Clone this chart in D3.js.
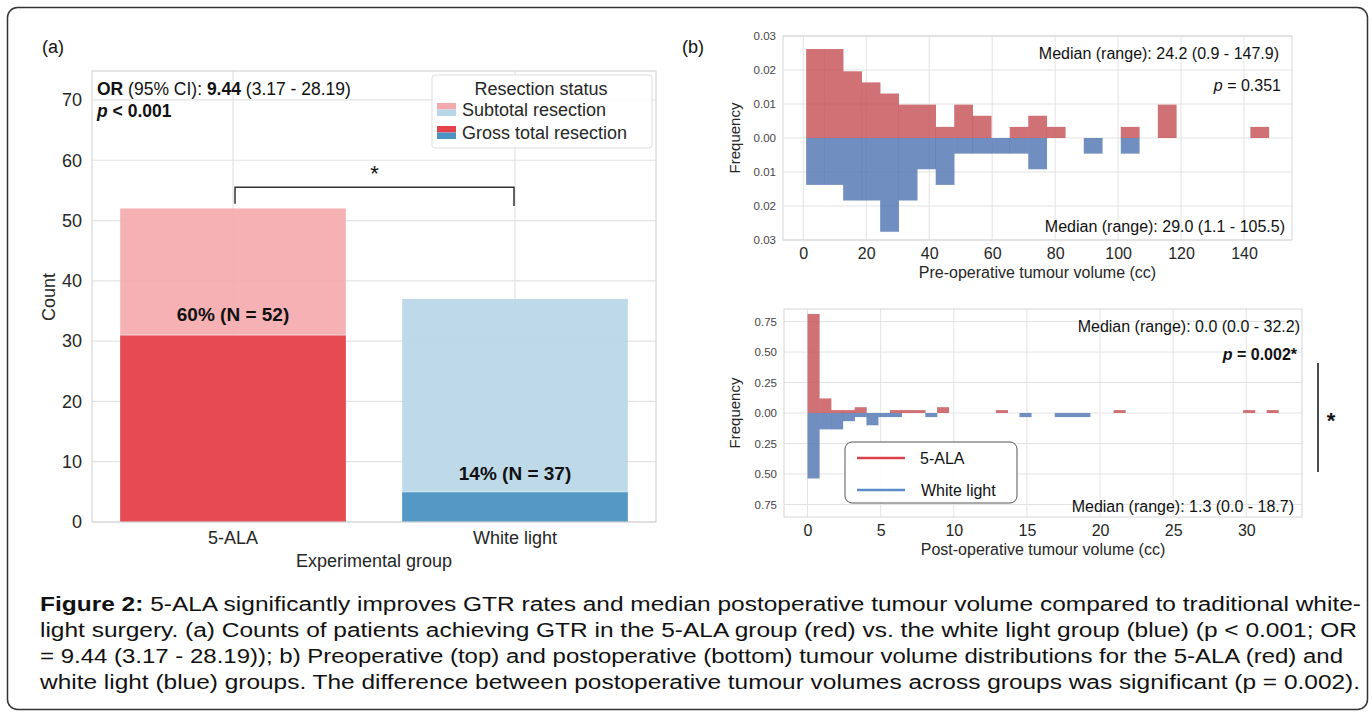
<!DOCTYPE html>
<html><head><meta charset="utf-8">
<script src="https://cdn.jsdelivr.net/npm/d3@7"></script>
<style>
html,body{margin:0;padding:0;background:#fff;}
text{font-family:"Liberation Sans",Arial,sans-serif;}
</style></head>
<body><svg id="c" width="1372" height="718"></svg>
<script>
// ---------- DATA ----------
const groups = ["5-ALA", "White light"];
const gtrCounts = [31, 5];
const totalCounts = [52, 37];
const pctLabels = ["60% (N = 52)", "14% (N = 37)"];
const yTicksA = [0, 10, 20, 30, 40, 50, 60, 70];

const preRange = [0.9, 147.9];
const preRedCounts  = [8,8,6,5,4,3,3,1,3,2,0,1,2,1,0,0,0,1,0,3,0,0,0,0,1];
const preBlueCounts = [3,3,4,4,6,4,2,3,1,1,1,1,2,0,0,1,0,1,0,0,0,0,0,0,0];
const preXTicks = [0, 20, 40, 60, 80, 100, 120, 140];
const preYTicks = [-0.03, -0.02, -0.01, 0, 0.01, 0.02, 0.03];

const postRange = [0.0, 32.2];
const postRedCounts  = [34,5,1,1,2,0,0,1,1,1,0,2,0,0,0,0,1,0,0,0,0,0,0,0,0,0,1,0,0,0,0,0,0,0,0,0,0,1,0,1];
const postBlueCounts = [16,4,4,2,1,3,1,1,0,0,1,0,0,0,0,0,0,0,1,0,0,1,1,1,0,0,0,0,0,0,0,0,0,0,0,0,0,0,0,0];
const postXTicks = [0, 5, 10, 15, 20, 25, 30];
const postYTicks = [-0.75, -0.5, -0.25, 0, 0.25, 0.5, 0.75];

const nRed = 52, nBlue = 37;

const captionLines = [
  [["Figure 2:", true], [" 5-ALA significantly improves GTR rates and median postoperative tumour volume compared to traditional white-", false]],
  [["light surgery. (a) Counts of patients achieving GTR in the 5-ALA group (red) vs. the white light group (blue) (p < 0.001; OR", false]],
  [["= 9.44 (3.17 - 28.19)); b) Preoperative (top) and postoperative (bottom) tumour volume distributions for the 5-ALA (red) and", false]],
  [["white light (blue) groups. The difference between postoperative tumour volumes across groups was significant (p = 0.002).", false]]
];

// ---------- DRAW ----------
const svg = d3.select("#c");
const GRID = "#e3e3e3", FRAME = "#d6d6d6", TXT = "#262626";

svg.append("rect").attr("x",7.5).attr("y",7.5).attr("width",1360).attr("height",702)
  .attr("rx",10).attr("fill","#fff").attr("stroke","#333").attr("stroke-width",1.5);

// ----- Panel (a) -----
const A = {l:92, r:656, t:71, b:522};
const yA = d3.scaleLinear().domain([0, 74.8]).range([A.b, A.t]);
const xA = d3.scaleBand().domain(groups).range([A.l, A.r]).paddingInner(0.2).paddingOuter(0.1);
const gA = svg.append("g");
gA.selectAll(".hg").data(yTicksA).join("line")
  .attr("x1",A.l).attr("x2",A.r).attr("y1",d=>yA(d)).attr("y2",d=>yA(d)).attr("stroke",GRID).attr("stroke-width",1.2);
gA.selectAll(".vg").data(groups).join("line")
  .attr("x1",d=>xA(d)+xA.bandwidth()/2).attr("x2",d=>xA(d)+xA.bandwidth()/2)
  .attr("y1",A.t).attr("y2",A.b).attr("stroke",GRID).attr("stroke-width",1.2);

const lightCol = ["#f4a9ac", "#b7d6e7"];
const darkCol = ["#e4424a", "#4b93c3"];
groups.forEach((g,i)=>{
  gA.append("rect").attr("x",xA(g)).attr("width",xA.bandwidth())
    .attr("y",yA(totalCounts[i])).attr("height",yA(0)-yA(totalCounts[i]))
    .attr("fill",lightCol[i]).attr("fill-opacity",0.9);
  gA.append("rect").attr("x",xA(g)).attr("width",xA.bandwidth())
    .attr("y",yA(gtrCounts[i])).attr("height",yA(0)-yA(gtrCounts[i]))
    .attr("fill",darkCol[i]).attr("fill-opacity",0.93);
  gA.append("line").attr("x1",xA(g)).attr("x2",xA(g)+xA.bandwidth())
    .attr("y1",yA(gtrCounts[i])).attr("y2",yA(gtrCounts[i])).attr("stroke","#fff").attr("stroke-opacity",0.6);
});
gA.append("rect").attr("x",A.l).attr("y",A.t).attr("width",A.r-A.l).attr("height",A.b-A.t)
  .attr("fill","none").attr("stroke",FRAME).attr("stroke-width",1.2);

// labels in bars
const pctY = [33.4, 7.0];
groups.forEach((g,i)=>{
  gA.append("text").attr("x",xA(g)+xA.bandwidth()/2).attr("y",yA(pctY[i]))
    .attr("text-anchor","middle").attr("font-size",19).attr("font-weight","bold").attr("fill","#111")
    .text(pctLabels[i]);
});
// axes
const ayA = d3.axisLeft(yA).tickValues(yTicksA).tickSize(0).tickPadding(10);
gA.append("g").attr("transform",`translate(${A.l},0)`).call(ayA)
  .call(g=>g.select(".domain").remove())
  .selectAll("text").attr("font-size",18).attr("fill",TXT).attr("font-family","Liberation Sans, Arial");
const axA = d3.axisBottom(xA).tickSize(0).tickPadding(9);
gA.append("g").attr("transform",`translate(0,${A.b})`).call(axA)
  .call(g=>g.select(".domain").remove())
  .selectAll("text").attr("font-size",18).attr("fill",TXT).attr("font-family","Liberation Sans, Arial");
svg.append("text").attr("x",374).attr("y",567).attr("text-anchor","middle").attr("font-size",18).attr("fill",TXT).text("Experimental group");
svg.append("text").attr("transform","translate(55,297) rotate(-90)").attr("text-anchor","middle").attr("font-size",18).attr("fill",TXT).text("Count");

// OR annotation
const orT = svg.append("text").attr("x",97).attr("y",95).attr("font-size",17.5).attr("fill","#111");
orT.append("tspan").attr("font-weight","bold").text("OR");
orT.append("tspan").text(" (95% CI): ");
orT.append("tspan").attr("font-weight","bold").text("9.44");
orT.append("tspan").text(" (3.17 - 28.19)");
const paT = svg.append("text").attr("x",97).attr("y",117).attr("font-size",17.5).attr("font-weight","bold").attr("fill","#111");
paT.append("tspan").attr("font-style","italic").text("p");
paT.append("tspan").text(" < 0.001");

// legend (a)
svg.append("rect").attr("x",432).attr("y",75).attr("width",220).attr("height",73).attr("rx",3)
  .attr("fill","#fff").attr("fill-opacity",0.85).attr("stroke","#ddd");
svg.append("text").attr("x",541).attr("y",95).attr("text-anchor","middle").attr("font-size",18).attr("fill",TXT).text("Resection status");
[[lightCol, "Subtotal resection", 103], [darkCol, "Gross total resection", 126]].forEach(([cols,lab,y])=>{
  svg.append("rect").attr("x",437).attr("y",y).attr("width",19).attr("height",6.5).attr("fill",cols[0]);
  svg.append("rect").attr("x",437).attr("y",y+6.5).attr("width",19).attr("height",6.5).attr("fill",cols[1]);
  svg.append("text").attr("x",462).attr("y",y+13).attr("font-size",18).attr("fill",TXT).text(lab);
});

// significance bracket (a)
const cx0 = xA(groups[0])+xA.bandwidth()/2+2, cx1 = xA(groups[1])+xA.bandwidth()/2-1;
svg.append("path").attr("d",`M${cx0},${yA(52.8)} V${yA(55.5)} H${cx1} V${yA(52.4)}`)
  .attr("fill","none").attr("stroke","#333").attr("stroke-width",1.5);
svg.append("text").attr("x",(cx0+cx1)/2).attr("y",yA(56.5)).attr("text-anchor","middle").attr("font-size",22).attr("fill","#111").text("*");

svg.append("text").attr("x",42).attr("y",53).attr("font-size",18).attr("fill","#111").text("(a)");
svg.append("text").attr("x",682).attr("y",53).attr("font-size",18).attr("fill","#111").text("(b)");

// ----- Histograms -----
function mirrorHist(cfg){
  const {box, range, red, blue, xTicks, yTicks, yMax, fmt} = cfg;
  const n = red.length, w = (range[1]-range[0])/n;
  const pad = (range[1]-range[0])*0.05;
  const x = d3.scaleLinear().domain([range[0]-pad, range[1]+pad]).range([box.l, box.r]);
  const y = d3.scaleLinear().domain([-yMax, yMax]).range([box.b, box.t]);
  const g = svg.append("g");
  g.selectAll(".hg").data(yTicks).join("line").attr("x1",box.l).attr("x2",box.r)
    .attr("y1",d=>y(d)).attr("y2",d=>y(d)).attr("stroke",GRID);
  g.selectAll(".vg").data(xTicks).join("line").attr("y1",box.t).attr("y2",box.b)
    .attr("x1",d=>x(d)).attr("x2",d=>x(d)).attr("stroke",GRID);
  const bins = d3.range(n).map(i=>({x0:range[0]+i*w, x1:range[0]+(i+1)*w, r:red[i], b:blue[i]}));
  g.selectAll(".rb").data(bins.filter(d=>d.r>0)).join("rect")
    .attr("x",d=>x(d.x0)).attr("width",d=>x(d.x1)-x(d.x0)+0.3)
    .attr("y",d=>y(d.r/(nRed*w))).attr("height",d=>y(0)-y(d.r/(nRed*w)))
    .attr("fill","#c44e52").attr("fill-opacity",0.8);
  g.selectAll(".bb").data(bins.filter(d=>d.b>0)).join("rect")
    .attr("x",d=>x(d.x0)).attr("width",d=>x(d.x1)-x(d.x0)+0.3)
    .attr("y",y(0)).attr("height",d=>y(-d.b/(nBlue*w))-y(0))
    .attr("fill","#4c72b0").attr("fill-opacity",0.8);
  g.append("rect").attr("x",box.l).attr("y",box.t).attr("width",box.r-box.l).attr("height",box.b-box.t)
    .attr("fill","none").attr("stroke",FRAME);
  g.append("g").attr("transform",`translate(${box.l},0)`)
    .call(d3.axisLeft(y).tickValues(yTicks).tickSize(0).tickPadding(7).tickFormat(d=>fmt(Math.abs(d))))
    .call(a=>a.select(".domain").remove())
    .selectAll("text").attr("font-size",11.5).attr("fill","#444").attr("font-family","Liberation Sans, Arial");
  g.append("g").attr("transform",`translate(0,${box.b})`)
    .call(d3.axisBottom(x).tickValues(xTicks).tickSize(0).tickPadding(8))
    .call(a=>a.select(".domain").remove())
    .selectAll("text").attr("font-size",16).attr("fill",TXT).attr("font-family","Liberation Sans, Arial");
  svg.append("text").attr("x",(box.l+box.r)/2).attr("y",box.b+38).attr("text-anchor","middle")
    .attr("font-size",16).attr("fill",TXT).text(cfg.xLabel);
  svg.append("text").attr("transform",`translate(740,${y(0)}) rotate(-90)`).attr("text-anchor","middle")
    .attr("font-size",15).attr("fill",TXT).text("Frequency");
  return {x,y};
}
const histPre = mirrorHist({box:{l:783,r:1292,t:36,b:240}, range:preRange, red:preRedCounts, blue:preBlueCounts,
  xTicks:preXTicks, yTicks:preYTicks, yMax:0.03, fmt:d3.format(".2f"), xLabel:"Pre-operative tumour volume (cc)"});
const histPost = mirrorHist({box:{l:784,r:1302,t:309,b:517}, range:postRange, red:postRedCounts, blue:postBlueCounts,
  xTicks:postXTicks, yTicks:postYTicks, yMax:0.853, fmt:d3.format(".2f"), xLabel:"Post-operative tumour volume (cc)"});

function txt(x,y,s,opts={}){
  const t = svg.append("text").attr("x",x).attr("y",y).attr("text-anchor","end").attr("font-size",16).attr("fill","#111");
  if(opts.bold) t.attr("font-weight","bold");
  if(opts.p){ t.append("tspan").attr("font-style","italic").text("p"); t.append("tspan").text(s); }
  else t.text(s);
}
txt(1279,59,"Median (range): 24.2 (0.9 - 147.9)");
txt(1281,91," = 0.351",{p:true});
txt(1285,232,"Median (range): 29.0 (1.1 - 105.5)");
txt(1300,332,"Median (range): 0.0 (0.0 - 32.2)");
txt(1297,360," = 0.002*",{p:true,bold:true});
txt(1294,512,"Median (range): 1.3 (0.0 - 18.7)");

// legend (b bottom)
svg.append("rect").attr("x",845).attr("y",442).attr("width",172).attr("height",61).attr("rx",7)
  .attr("fill","#fff").attr("fill-opacity",0.9).attr("stroke","#555");
[["#d9434c","5-ALA",458],["#5a8dc8","White light",490]].forEach(([c,l,y])=>{
  svg.append("line").attr("x1",857).attr("x2",905).attr("y1",y).attr("y2",y).attr("stroke",c).attr("stroke-width",2.5);
  svg.append("text").attr("x",l==="5-ALA"?920:921).attr("y",y+6).attr("font-size",16).attr("fill","#111").text(l);
});

// significance bar (b)
svg.append("line").attr("x1",1318).attr("x2",1318).attr("y1",363).attr("y2",472).attr("stroke","#111").attr("stroke-width",1.5);
svg.append("text").attr("x",1331).attr("y",428).attr("text-anchor","middle").attr("font-size",22).attr("font-weight","bold").attr("fill","#111").text("*");

// caption
const capW = [1321, 1317, 1303, 1320];
captionLines.forEach((parts,i)=>{
  const t = svg.append("text").attr("x",40).attr("y",611+i*26).attr("font-size",20)
    .attr("font-family","'Liberation Sans Narrow','Arial Narrow','Liberation Sans',sans-serif").attr("fill","#111")
    .attr("textLength",capW[i]).attr("lengthAdjust","spacingAndGlyphs");
  parts.forEach(([s,b])=>{ const sp=t.append("tspan").text(s); if(b) sp.attr("font-weight","bold"); });
});
</script></body></html>
